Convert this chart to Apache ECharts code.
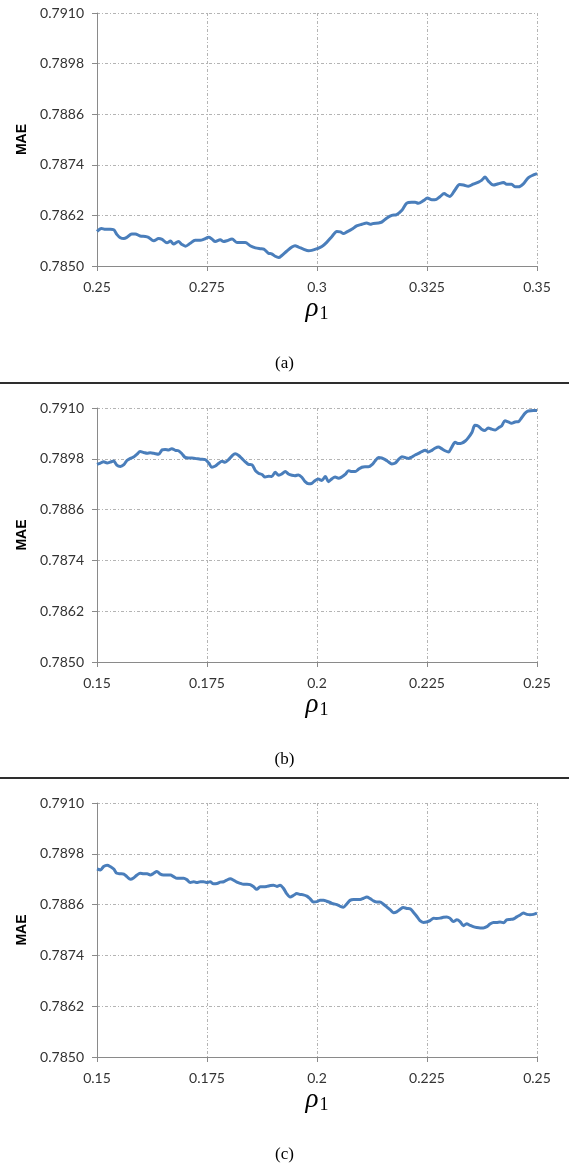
<!DOCTYPE html>
<html>
<head>
<meta charset="utf-8">
<script src="https://cdn.jsdelivr.net/npm/echarts@6/dist/echarts.min.js"></script>
<style>
html,body{margin:0;padding:0;background:#fff;}
#chart{width:569px;height:1167px;}
</style>
</head>
<body>
<div id="chart"></div>
<script>
// ---- Data ----
const yTicksMin = 0.785, yTicksMax = 0.791, yStep = 0.0012;
const xRangeA = [0.25, 0.35];
const xRangeBC = [0.15, 0.25];
const xStep = 0.025;
const captions = ['(a)', '(b)', '(c)'];

const aX = [0.2500,0.2510,0.2519,0.2530,0.2538,0.2545,0.2553,0.2561,0.2568,0.2579,
0.2587,0.2598,0.2610,0.2617,0.2629,0.2640,0.2648,0.2659,0.2667,0.2674,
0.2685,0.2693,0.2701,0.2712,0.2723,0.2735,0.2742,0.2754,0.2761,0.2769,
0.2780,0.2788,0.2795,0.2807,0.2818,0.2829,0.2837,0.2848,0.2860,0.2871,
0.2879,0.2890,0.2897,0.2905,0.2913,0.2920,0.2931,0.2943,0.2950,0.2958,
0.2969,0.2981,0.2988,0.3000,0.3011,0.3022,0.3034,0.3045,0.3053,0.3060,
0.3068,0.3079,0.3090,0.3102,0.3113,0.3121,0.3128,0.3140,0.3147,0.3159,
0.3170,0.3181,0.3193,0.3204,0.3215,0.3223,0.3230,0.3242,0.3251,0.3261,
0.3268,0.3280,0.3289,0.3295,0.3302,0.3314,0.3324,0.3333,0.3344,0.3355,
0.3367,0.3374,0.3382,0.3389,0.3401,0.3412,0.3424,0.3431,0.3442,0.3450,
0.3458,0.3469,0.3480,0.3492,0.3500];
const aY = [0.78582,0.78589,0.78587,0.78587,0.78586,0.78575,0.78567,0.78565,0.78568,0.78576,
0.78576,0.78571,0.78570,0.78568,0.78560,0.78565,0.78563,0.78555,0.78559,0.78552,
0.78558,0.78551,0.78547,0.78554,0.78561,0.78561,0.78563,0.78568,0.78564,0.78558,
0.78562,0.78558,0.78560,0.78564,0.78556,0.78556,0.78556,0.78548,0.78543,0.78541,
0.78540,0.78530,0.78529,0.78523,0.78520,0.78525,0.78535,0.78545,0.78548,0.78545,
0.78540,0.78536,0.78537,0.78541,0.78546,0.78556,0.78570,0.78582,0.78581,0.78577,
0.78581,0.78587,0.78595,0.78599,0.78602,0.78599,0.78601,0.78602,0.78604,0.78614,
0.78620,0.78622,0.78632,0.78649,0.78651,0.78651,0.78649,0.78655,0.78661,0.78657,
0.78657,0.78665,0.78672,0.78668,0.78665,0.78681,0.78693,0.78692,0.78689,0.78694,
0.78699,0.78703,0.78711,0.78702,0.78692,0.78695,0.78698,0.78694,0.78694,0.78688,
0.78688,0.78695,0.78709,0.78716,0.78719];

const bX = [0.1500,0.1508,0.1515,0.1523,0.1530,0.1538,0.1545,0.1553,0.1561,0.1568,0.1576,0.1583,0.1591,0.1598,0.1606,0.1614,0.1621,0.1629,
0.1640,0.1648,0.1655,0.1663,0.1670,0.1678,0.1685,0.1693,0.1701,
0.1712,0.1723,0.1735,0.1746,
0.1754,0.1761,0.1769,0.1776,0.1784,0.1791,0.1799,0.1807,0.1814,0.1822,
0.1829,0.1837,0.1844,0.1852,0.1860,0.1867,0.1875,0.1882,0.1890,0.1897,
0.1905,0.1913,0.1920,0.1928,0.1935,0.1943,0.1950,0.1958,0.1966,0.1973,
0.1981,0.1988,0.1996,0.2003,0.2011,0.2019,0.2026,0.2034,0.2041,0.2049,
0.2056,0.2064,0.2072,0.2079,0.2087,0.2094,0.2102,0.2109,0.2117,0.2125,
0.2132,0.2140,0.2147,0.2155,0.2162,0.2170,0.2178,0.2185,0.2193,0.2200,
0.2208,0.2215,0.2223,0.2231,0.2238,0.2246,0.2253,0.2261,0.2268,0.2276,
0.2283,0.2291,0.2299,0.2306,0.2314,0.2321,0.2329,0.2337,0.2344,0.2352,
0.2359,0.2367,0.2374,0.2382,0.2389,0.2397,0.2405,0.2412,0.2420,0.2427,
0.2435,0.2442,0.2450,0.2458,0.2465,0.2473,0.2480,
0.2492,0.2500];
const bY = [0.78967,0.78970,0.78973,0.78970,0.78972,0.78975,0.78965,0.78962,0.78966,0.78976,0.78981,0.78984,0.78991,0.78997,0.78995,0.78993,0.78994,0.78993,
0.78991,0.79001,0.79002,0.79001,0.79004,0.79000,0.78999,0.78992,0.78983,
0.78982,0.78981,0.78979,0.78978,
0.78970,0.78960,0.78963,0.78969,0.78974,0.78972,0.78978,0.78987,0.78992,0.78988,
0.78981,0.78973,0.78967,0.78966,0.78952,0.78946,0.78943,0.78937,0.78939,0.78938,
0.78948,0.78941,0.78944,0.78950,0.78944,0.78941,0.78940,0.78942,0.78936,0.78926,
0.78921,0.78922,0.78929,0.78932,0.78929,0.78938,0.78926,0.78933,0.78937,0.78934,
0.78937,0.78943,0.78952,0.78950,0.78950,0.78955,0.78960,0.78961,0.78961,0.78966,
0.78975,0.78983,0.78982,0.78978,0.78973,0.78968,0.78970,0.78978,0.78985,0.78983,
0.78981,0.78984,0.78989,0.78993,0.78997,0.79000,0.78996,0.79000,0.79005,0.79008,
0.79004,0.78999,0.78996,0.79007,0.79019,0.79016,0.79017,0.79022,0.79030,0.79042,
0.79059,0.79057,0.79050,0.79047,0.79053,0.79050,0.79048,0.79053,0.79058,0.79070,
0.79067,0.79064,0.79067,0.79068,0.79077,0.79088,0.79093,
0.79094,0.79094];

const cX = [0.1500,0.1508,0.1515,0.1523,0.1530,0.1538,0.1545,0.1553,0.1561,0.1568,
0.1576,0.1583,0.1591,0.1598,0.1606,0.1614,0.1621,0.1629,0.1636,0.1644,
0.1651,0.1659,0.1667,0.1674,0.1682,0.1689,0.1697,0.1704,0.1712,0.1720,
0.1727,0.1735,0.1742,0.1750,0.1757,0.1765,0.1773,0.1780,0.1788,0.1795,
0.1803,0.1810,0.1818,0.1826,0.1833,0.1841,0.1848,0.1856,0.1863,0.1871,
0.1879,0.1886,0.1894,0.1901,0.1909,0.1916,0.1924,0.1931,0.1939,0.1947,
0.1954,0.1962,0.1969,0.1977,0.1984,0.1992,0.2000,0.2007,0.2015,0.2022,
0.2030,0.2037,0.2045,0.2053,0.2060,0.2068,0.2075,0.2083,0.2090,0.2098,
0.2106,0.2113,0.2121,0.2128,0.2136,0.2143,0.2151,0.2159,0.2166,0.2174,
0.2181,0.2189,0.2196,0.2204,0.2212,0.2219,0.2227,0.2234,0.2242,0.2249,
0.2257,0.2265,0.2272,0.2280,0.2287,0.2295,0.2302,0.2310,0.2318,0.2325,
0.2333,0.2340,0.2348,0.2355,0.2363,0.2371,0.2378,0.2386,0.2393,0.2401,
0.2408,0.2416,0.2424,0.2431,0.2439,0.2446,0.2454,0.2461,0.2469,0.2477,
0.2484,0.2492,0.2500];
const cY = [0.78944,0.78942,0.78950,0.78953,0.78950,0.78944,0.78934,0.78933,0.78932,0.78926,
0.78920,0.78923,0.78930,0.78934,0.78933,0.78933,0.78930,0.78934,0.78938,0.78932,
0.78930,0.78930,0.78930,0.78926,0.78922,0.78922,0.78922,0.78919,0.78912,0.78914,
0.78912,0.78914,0.78914,0.78912,0.78914,0.78909,0.78910,0.78913,0.78914,0.78918,
0.78921,0.78918,0.78913,0.78910,0.78908,0.78908,0.78907,0.78902,0.78896,0.78902,
0.78902,0.78903,0.78905,0.78906,0.78903,0.78906,0.78898,0.78886,0.78878,0.78882,
0.78886,0.78884,0.78883,0.78880,0.78874,0.78866,0.78867,0.78870,0.78870,0.78868,
0.78865,0.78862,0.78860,0.78856,0.78854,0.78862,0.78870,0.78872,0.78872,0.78872,
0.78875,0.78878,0.78874,0.78869,0.78866,0.78866,0.78861,0.78854,0.78848,0.78841,
0.78843,0.78849,0.78853,0.78851,0.78850,0.78842,0.78832,0.78822,0.78818,0.78819,
0.78822,0.78828,0.78827,0.78828,0.78830,0.78831,0.78828,0.78820,0.78824,0.78820,
0.78810,0.78815,0.78811,0.78808,0.78806,0.78805,0.78805,0.78808,0.78814,0.78818,
0.78818,0.78819,0.78817,0.78824,0.78825,0.78826,0.78831,0.78835,0.78840,0.78837,
0.78836,0.78837,0.78840];

// ---- Build chart ----
function zip(xs, ys){
  const n = Math.min(xs.length, ys.length), out = [];
  for (let i = 0; i < n; i++) out.push([xs[i], ys[i]]);
  return out;
}
const panels = [
  {x: aX, y: aY, range: xRangeA, top: 13, h: 253},
  {x: bX, y: bY, range: xRangeBC, top: 408, h: 254},
  {x: cX, y: cY, range: xRangeBC, top: 803, h: 254}
];
const axisGray = '#8a8a8a';
const gridStyle = {color: '#b4b4b4', type: [3, 2, 1, 2], width: 1};
const tickFont = {fontFamily: 'Lato', fontSize: 14, color: '#333'};

const grid = [], xAxis = [], yAxis = [], series = [], graphic = [];
panels.forEach((p, i) => {
  grid.push({left: 97, right: 32, top: p.top, height: p.h, containLabel: false});
  xAxis.push({
    type: 'value', gridIndex: i, min: p.range[0], max: p.range[1], interval: xStep,
    axisLine: {show: true, onZero: false, lineStyle: {color: axisGray, width: 1}},
    axisTick: {show: true, length: 5, lineStyle: {color: axisGray}},
    axisLabel: Object.assign({margin: 14}, tickFont),
    splitLine: {show: true, lineStyle: gridStyle},
    name: '{r|ρ}{s|1}', nameLocation: 'middle', nameGap: 29,
    nameTextStyle: {
      rich: {
        r: {fontFamily: 'Liberation Serif', fontStyle: 'italic', fontSize: 27, color: '#000', lineHeight: 28},
        s: {fontFamily: 'Liberation Serif', fontSize: 18, color: '#000', lineHeight: 28, padding: [10, 0, 0, 1]}
      }
    }
  });
  yAxis.push({
    type: 'value', gridIndex: i, min: yTicksMin, max: yTicksMax, interval: yStep,
    axisLine: {show: true, lineStyle: {color: axisGray, width: 1}},
    axisTick: {show: true, length: 5, lineStyle: {color: axisGray}},
    axisLabel: Object.assign({margin: 13, formatter: v => v.toFixed(4)}, tickFont),
    splitLine: {show: true, lineStyle: gridStyle},
    name: 'MAE', nameLocation: 'middle', nameGap: 67, nameRotate: 90,
    nameTextStyle: {fontFamily: 'Liberation Sans', fontWeight: 'bold', fontSize: 14, color: '#000'}
  });
  series.push({
    type: 'line', xAxisIndex: i, yAxisIndex: i, data: zip(p.x, p.y),
    symbol: 'none', smooth: 0.3, clip: false,
    lineStyle: {color: '#4a7ebb', width: 3}
  });
  graphic.push({
    type: 'text', left: 'center', top: p.top + p.h + 89,
    style: {text: captions[i], font: '17px "Liberation Serif"', fill: '#000'}
  });
});
graphic.push({type: 'line', shape: {x1: 0, y1: 383, x2: 569, y2: 383}, style: {stroke: '#2e2e2e', lineWidth: 2}});
graphic.push({type: 'line', shape: {x1: 0, y1: 778, x2: 569, y2: 778}, style: {stroke: '#2e2e2e', lineWidth: 2}});

const chart = echarts.init(document.getElementById('chart'), null, {renderer: 'canvas'});
chart.setOption({animation: false, backgroundColor: '#fff', grid, xAxis, yAxis, series, graphic});
</script>
</body>
</html>
